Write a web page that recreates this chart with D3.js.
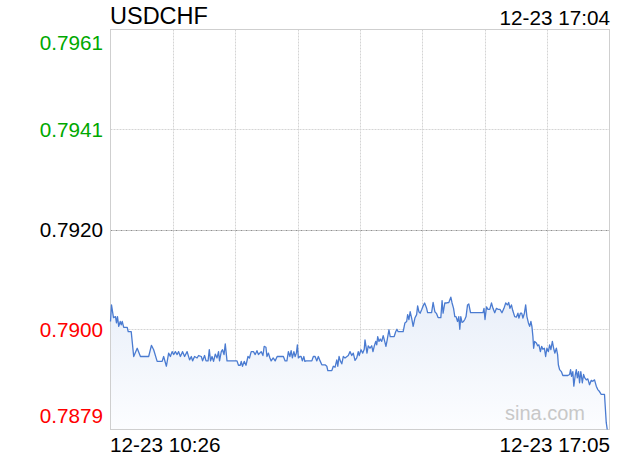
<!DOCTYPE html>
<html><head><meta charset="utf-8">
<script src="https://cdn.jsdelivr.net/npm/d3@7"></script>
<style>body{margin:0;background:#fff}svg{display:block;font-family:"Liberation Sans",Arial,sans-serif}</style>
</head><body><svg id="c" width="620" height="460"></svg>
<script>
const symbol = "USDCHF";
const stampTime = "12-23 17:04";
const axisTimeLabels = ["12-23 10:26", "12-23 17:05"];
const prevClose = 0.79201;
const priceTicks = [0.79612, 0.79407, 0.79201, 0.78996, 0.78790];
const priceTickLabels = ["0.7961", "0.7941", "0.7920", "0.7900", "0.7879"];
const timeGridMinutes = [50, 100, 150, 200, 250, 300, 350];
const watermark = "sina.com";

// minutes since 10:26
const times = [0,0.8,2.4,4.0,4.8,5.6,6.6,7.8,8.6,9.4,
10.6,13.4,14.2,16.6,18.6,21.4,24,30.6,32.8,34.6,
37.4,41.4,42.6,44.8,46.6,48,49.4,50.6,52,53.4,
54.6,56,57.8,59.4,61.4,63.4,64.8,65.8,67.4,69.4,
70.6,72.8,73.8,75.4,76.6,78.2,79.2,80.2,81.4,82.6,
84,85.4,86.6,87.4,88.8,89.8,91,92,93.4,101.4,
102.6,104,104.8,105.8,107.2,108.6,110.2,111.4,112.8,114.6,
116,117.4,118.6,120.8,122.2,123.2,124.6,125.4,126.6,127.8,
128.8,130.4,132,133.6,138.6,140,141.4,142.6,143.8,144.8,
145.8,147,148,149,149.8,150.6,151.8,152.8,153.8,155,
155.8,157,161.4,162.6,164,165.4,166.6,168,169.4,172,
173.4,174.2,177.4,178.6,180,181.4,182.2,183.2,184.2,185.4,
186.6,188,190.6,192,193.4,194.6,196,197.4,198.6,199.4,
200.8,202.2,203.4,204,204.8,205.6,206.6,208,209.4,210.4,
211.4,212.6,213.4,214.2,215.2,216.2,217.4,218.6,219.8,220.8,
221.8,223.2,224.2,227.4,228.6,229.6,230.6,234.6,236,237.4,
238.2,239.2,240.2,241.4,242.6,244,245.4,246.2,247.2,248.2,
249.4,250.6,251.8,253.4,254.2,257.4,258.6,260,261.4,262.6,
264.8,265.8,266.6,268,269.4,271.2,272.8,273.8,275,276,
277,278.2,279.2,280,280.8,281.8,283,284,285,286.2,
287.2,288.6,298.6,299.4,300.2,301.4,302.6,304,305.4,306.6,
308,309.4,310.6,312.2,313.8,315.4,316.8,318.2,319.2,320.2,
321.4,322.4,324,325.4,326.6,327.4,328.6,329.6,330.6,331.8,
332.8,333.8,335,336,337,337.8,338.6,339.2,340,341.4,
342.4,343.4,344.6,345.6,346.6,347.8,348.8,349.8,351,352,
353,354.2,355.2,356.2,357.4,358.4,359,360,361.4,362.6,
366.6,368,368.8,369.6,370.6,371.4,372.6,373.4,374.2,375.2,
376,377,378.2,379.2,380.2,381.4,382.6,384,385.4,386.6,
388,389.4,390.6,392,393.4,396,397.4,398.2];

const prices = [0.79012,0.79046,0.79020,0.79022,0.79009,0.79022,0.79002,0.79012,0.79005,0.79012,
0.79000,0.79000,0.78991,0.78991,0.78940,0.78957,0.78940,0.78940,0.78963,0.78954,
0.78930,0.78930,0.78940,0.78920,0.78947,0.78940,0.78950,0.78944,0.78950,0.78944,
0.78950,0.78940,0.78950,0.78940,0.78950,0.78933,0.78940,0.78931,0.78940,0.78937,
0.78942,0.78940,0.78931,0.78942,0.78931,0.78931,0.78954,0.78931,0.78940,0.78930,
0.78945,0.78937,0.78950,0.78931,0.78950,0.78954,0.78944,0.78966,0.78931,0.78931,
0.78922,0.78922,0.78930,0.78920,0.78930,0.78922,0.78940,0.78937,0.78950,0.78950,
0.78944,0.78952,0.78944,0.78950,0.78942,0.78961,0.78959,0.78940,0.78947,0.78937,
0.78931,0.78937,0.78931,0.78940,0.78940,0.78931,0.78931,0.78950,0.78940,0.78952,
0.78937,0.78950,0.78940,0.78947,0.78964,0.78937,0.78940,0.78940,0.78931,0.78940,
0.78930,0.78931,0.78931,0.78940,0.78940,0.78931,0.78940,0.78931,0.78923,0.78923,
0.78920,0.78911,0.78911,0.78920,0.78918,0.78933,0.78920,0.78940,0.78931,0.78925,
0.78940,0.78937,0.78942,0.78950,0.78942,0.78947,0.78932,0.78937,0.78950,0.78942,
0.78954,0.78947,0.78955,0.78974,0.78961,0.78947,0.78962,0.78957,0.78962,0.78950,
0.78961,0.78971,0.78964,0.78981,0.78971,0.78976,0.78971,0.78983,0.78971,0.78961,
0.78974,0.78995,0.78981,0.78981,0.78991,0.78996,0.78991,0.78991,0.79009,0.79012,
0.79026,0.79016,0.79032,0.79019,0.79002,0.79019,0.79026,0.79044,0.79032,0.79029,
0.79036,0.79044,0.79050,0.79039,0.79030,0.79030,0.79051,0.79032,0.79028,0.79020,
0.79020,0.79055,0.79029,0.79050,0.79050,0.79051,0.79062,0.79050,0.79039,0.79022,
0.79022,0.79012,0.79022,0.78996,0.79022,0.79010,0.79012,0.79016,0.79022,0.79046,
0.79048,0.79030,0.79030,0.79039,0.79016,0.79042,0.79037,0.79037,0.79050,0.79039,
0.79030,0.79039,0.79037,0.79037,0.79030,0.79039,0.79050,0.79046,0.79051,0.79039,
0.79046,0.79035,0.79022,0.79021,0.79029,0.79019,0.79029,0.79029,0.79019,0.79029,
0.79046,0.79022,0.79009,0.79002,0.79012,0.79002,0.78981,0.78957,0.78971,0.78968,
0.78962,0.78964,0.78950,0.78961,0.78955,0.78957,0.78940,0.78957,0.78950,0.78964,
0.78954,0.78971,0.78957,0.78947,0.78957,0.78944,0.78923,0.78913,0.78909,0.78901,
0.78901,0.78903,0.78913,0.78899,0.78909,0.78879,0.78903,0.78913,0.78896,0.78909,
0.78886,0.78909,0.78886,0.78903,0.78896,0.78892,0.78894,0.78882,0.78891,0.78889,
0.78892,0.78879,0.78872,0.78868,0.78862,0.78862,0.78804,0.78790];

const data = d3.zip(times, prices);
const svg = d3.select("#c");
const L = 110.5, R = 609.5, T = 29.5, B = 429.5;
const x = d3.scaleLinear().domain([0, 400]).range([L, R]);
const y = d3.scaleLinear().domain([priceTicks[4], priceTicks[0]]).range([B, T]);

const defs = svg.append("defs");
const grad = defs.append("linearGradient").attr("id", "fillg")
  .attr("gradientUnits", "userSpaceOnUse")
  .attr("x1", 0).attr("x2", 0).attr("y1", y(d3.max(prices))).attr("y2", B);
grad.append("stop").attr("offset", 0).attr("stop-color", "#e9eff9");
grad.append("stop").attr("offset", 1).attr("stop-color", "#fcfdff");

// grid
const grid = svg.append("g");
grid.selectAll("line.v").data(timeGridMinutes).join("line")
  .attr("x1", d => Math.round(x(d)) + 0.5).attr("x2", d => Math.round(x(d)) + 0.5)
  .attr("y1", T).attr("y2", B)
  .attr("stroke", "#d4d4d4").attr("stroke-dasharray", "2,1");
grid.selectAll("line.h").data(priceTicks.slice(1, 4)).join("line")
  .attr("x1", L).attr("x2", R)
  .attr("y1", d => Math.round(y(d)) + 0.5).attr("y2", d => Math.round(y(d)) + 0.5)
  .attr("stroke", d => d === prevClose ? "#8f8f8f" : "#d4d4d4")
  .attr("stroke-dasharray", d => d === prevClose ? "2,1,1,1" : "2,1");

// area
const area = d3.area().x(d => x(d[0])).y0(B).y1(d => y(d[1]));
svg.append("path").datum(data).attr("d", area).attr("fill", "url(#fillg)");

// border
svg.append("rect").attr("x", L).attr("y", T).attr("width", R - L).attr("height", B - T)
  .attr("fill", "none").attr("stroke", "#cfcfcf");

// watermark
svg.append("text").attr("x", 585).attr("y", 420).attr("text-anchor", "end")
  .attr("font-size", 20).attr("fill", "#c8c8c8").text(watermark);

const line = d3.line().x(d => x(d[0])).y(d => y(d[1]));
svg.append("path").datum(data).attr("d", line)
  .attr("fill", "none").attr("stroke", "#4a7bd1").attr("stroke-width", 1.3)
  .attr("stroke-linejoin", "round");

// y labels
const colorOf = v => Math.abs(v - prevClose) < 1e-9 ? "#000" : (v > prevClose ? "#00a800" : "#f00");
svg.selectAll("text.yl").data(priceTicks).join("text")
  .attr("x", 103).attr("text-anchor", "end").attr("font-size", 20.7)
  .attr("fill", colorOf)
  .attr("y", (d, i) => i === 0 ? y(d) + 20 : (i === 4 ? y(d) - 7 : y(d) + 7.5))
  .text((d, i) => priceTickLabels[i]);

// titles
svg.append("text").attr("x", 110).attr("y", 24).attr("font-size", 23.5).attr("fill", "#000").text(symbol);
svg.append("text").attr("x", 610).attr("y", 25).attr("font-size", 20.7).attr("text-anchor", "end").attr("fill", "#000").text(stampTime);
svg.append("text").attr("x", 110).attr("y", 452).attr("font-size", 20.7).attr("fill", "#000").text(axisTimeLabels[0]);
svg.append("text").attr("x", 610).attr("y", 452).attr("font-size", 20.7).attr("text-anchor", "end").attr("fill", "#000").text(axisTimeLabels[1]);
</script></body></html>
